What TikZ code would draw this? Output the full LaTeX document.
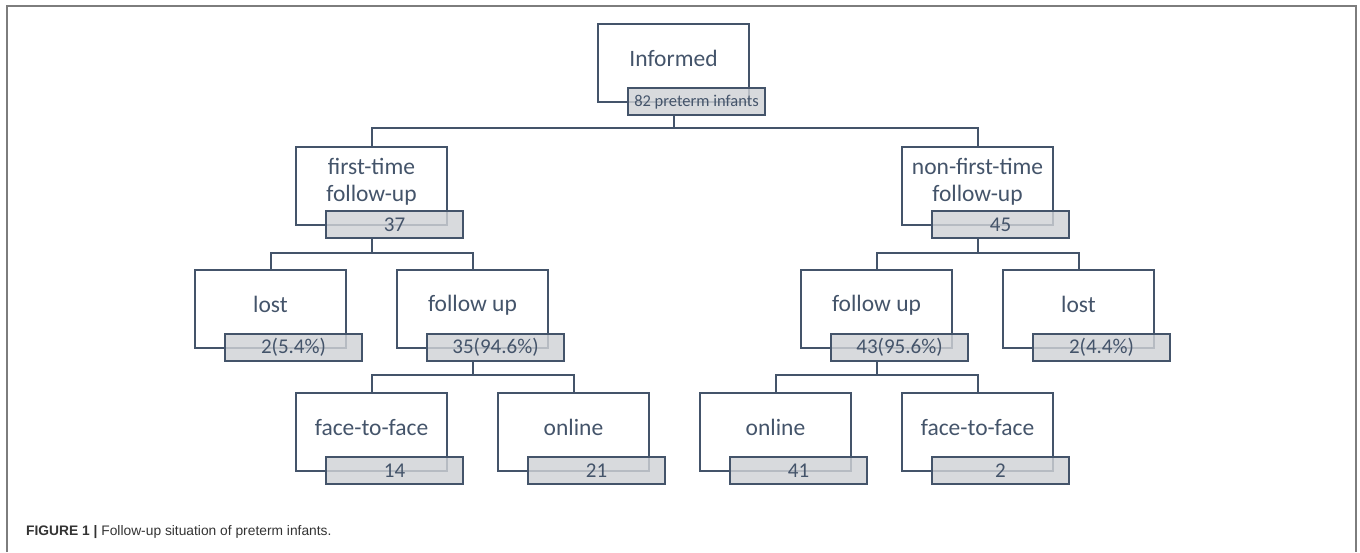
\documentclass[tikz,border=0pt]{standalone}
\usepackage{fontspec}
\setmainfont{Carlito}
\newfontfamily\capfont{Liberation Sans}
\usetikzlibrary{positioning}
\definecolor{slate}{RGB}{68,84,106}
\definecolor{cntgray}{RGB}{208,210,214}
\definecolor{framegray}{RGB}{125,125,125}

\begin{document}
\begin{tikzpicture}[x=1pt,y=-1pt,
	outer/.style={draw=slate,line width=2.2pt,minimum width=151pt,minimum height=78pt,inner sep=0pt},
	txt/.style={text=slate,font=\fontsize{23.5}{27}\selectfont,align=center},
	cnt/.style={draw=slate,line width=2.2pt,fill=cntgray,fill opacity=0.82,text opacity=1,text=slate,
		minimum width=137pt,minimum height=27pt,inner sep=0pt,font=\fontsize{21}{24}\selectfont,anchor=north west},
	conn/.style={draw=slate,line width=2pt}]
	\useasboundingbox (0,0) rectangle (1360,552);
	
	% frame and caption
	\draw[framegray,line width=1.6pt] (7,552) -- (7,6) -- (1356,6) -- (1356,552);
	\node[anchor=west,inner sep=0pt,text=black!80,font=\capfont\fontsize{13.8}{16}\selectfont] (cap) at (26,532)
		{\textbf{FIGURE 1 |} Follow-up situation of preterm infants.};
	
	% boxes
	\node[outer] (inf) at (673.5,63) {};
	\node[outer] (first) at (371.5,186) {};
	\node[outer] (nonf) at (977.5,186) {};
	\node[outer] (lostL) at (270.5,309) {};
	\node[outer] (fupL) at (472.5,309) {};
	\node[outer] (fupR) at (876.5,309) {};
	\node[outer] (lostR) at (1078.5,309) {};
	\node[outer] (ftfL) at (371.5,432) {};
	\node[outer] (onlL) at (573.5,432) {};
	\node[outer] (onlR) at (775.5,432) {};
	\node[outer] (ftfR) at (977.5,432) {};
	
	\node[txt] (infT) at ([yshift=-36pt]inf.north) {Informed};
	\node[txt] (firstT) at ([yshift=-36pt]first.north) {first-time\\follow-up};
	\node[txt] (nonfT) at ([yshift=-36pt]nonf.north) {non-first-time\\follow-up};
	\node[txt] (lostLT) at ([yshift=-36pt]lostL.north) {lost};
	\node[txt] (fupLT) at ([yshift=-36pt]fupL.north) {follow up};
	\node[txt] (fupRT) at ([yshift=-36pt]fupR.north) {follow up};
	\node[txt] (lostRT) at ([yshift=-36pt]lostR.north) {lost};
	\node[txt] (ftfLT) at ([yshift=-36pt]ftfL.north) {face-to-face};
	\node[txt] (onlLT) at ([yshift=-36pt]onlL.north) {online};
	\node[txt] (onlRT) at ([yshift=-36pt]onlR.north) {online};
	\node[txt] (ftfRT) at ([yshift=-36pt]ftfR.north) {face-to-face};
	
	% counts
	\node[cnt,font=\fontsize{16.5}{19}\selectfont] (infN) at ([xshift=30pt,yshift=16pt]inf.south west) {82 preterm infants};
	\node[cnt] (firstN) at ([xshift=30pt,yshift=16pt]first.south west) {37};
	\node[cnt] (nonfN) at ([xshift=30pt,yshift=16pt]nonf.south west) {45};
	\node[cnt] (lostLN) at ([xshift=30pt,yshift=16pt]lostL.south west) {2(5.4\%)};
	\node[cnt] (fupLN) at ([xshift=30pt,yshift=16pt]fupL.south west) {35(94.6\%)};
	\node[cnt] (fupRN) at ([xshift=30pt,yshift=16pt]fupR.south west) {43(95.6\%)};
	\node[cnt] (lostRN) at ([xshift=30pt,yshift=16pt]lostR.south west) {2(4.4\%)};
	\node[cnt] (ftfLN) at ([xshift=30pt,yshift=16pt]ftfL.south west) {14};
	\node[cnt] (onlLN) at ([xshift=30pt,yshift=16pt]onlL.south west) {21};
	\node[cnt] (onlRN) at ([xshift=30pt,yshift=16pt]onlR.south west) {41};
	\node[cnt] (ftfRN) at ([xshift=30pt,yshift=16pt]ftfR.south west) {2};
	
	% connectors
	\coordinate (bus1) at (0,127.5);
	\coordinate (bus2) at (0,252.5);
	\coordinate (bus3) at (0,375);
	\draw[conn] (inf.south |- infN.south) -- (inf.south |- bus1) -| (first.north);
	\draw[conn] (inf.south |- bus1) -| (nonf.north);
	\draw[conn] (first.south |- firstN.south) -- (first.south |- bus2) -| (lostL.north);
	\draw[conn] (first.south |- bus2) -| (fupL.north);
	\draw[conn] (nonf.south |- nonfN.south) -- (nonf.south |- bus2) -| (fupR.north);
	\draw[conn] (nonf.south |- bus2) -| (lostR.north);
	\draw[conn] (fupL.south |- fupLN.south) -- (fupL.south |- bus3) -| (ftfL.north);
	\draw[conn] (fupL.south |- bus3) -| (onlL.north);
	\draw[conn] (fupR.south |- fupRN.south) -- (fupR.south |- bus3) -| (onlR.north);
	\draw[conn] (fupR.south |- bus3) -| (ftfR.north);
\end{tikzpicture}
\end{document}
